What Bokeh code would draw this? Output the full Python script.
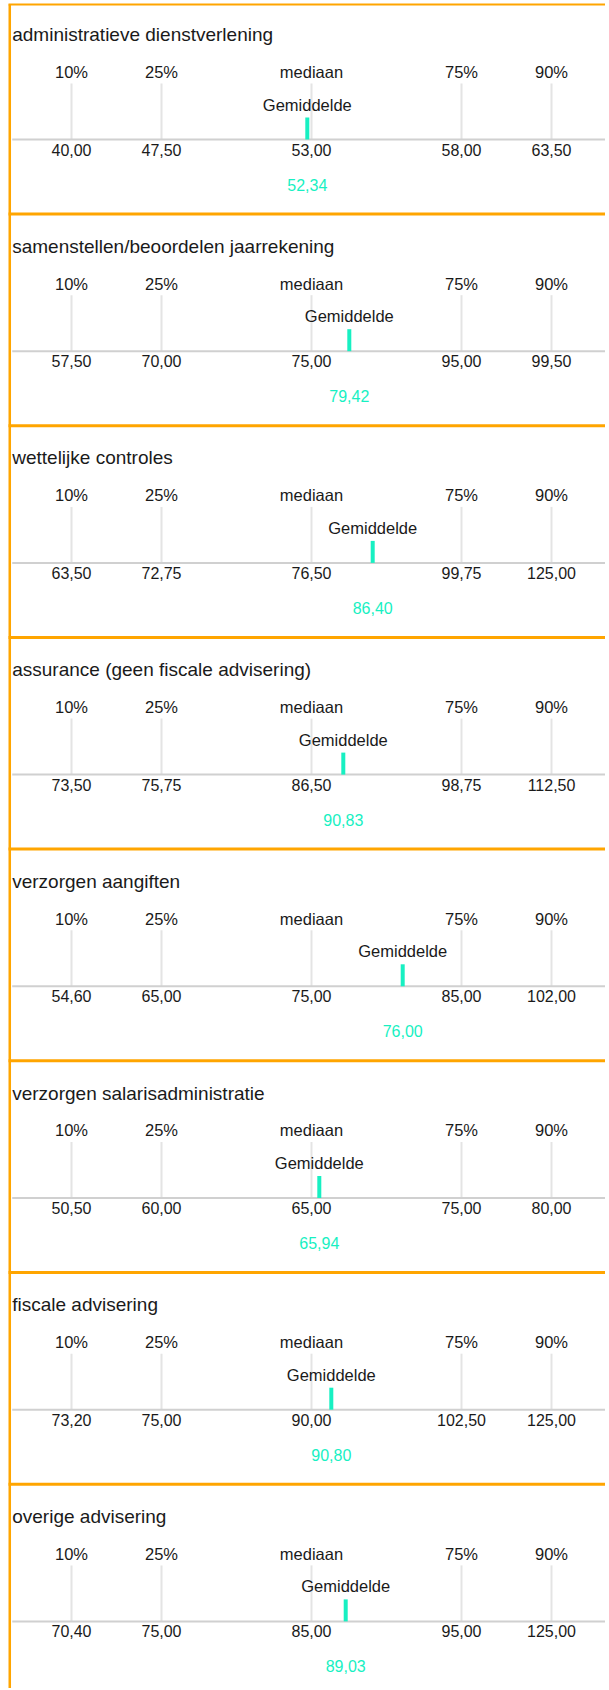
from bokeh.plotting import figure
from bokeh.models import Range1d, ColumnDataSource
from bokeh.core.properties import value
from bokeh.embed import file_html
from bokeh.resources import INLINE

# ---------------- data ----------------
categories = [
    "administratieve dienstverlening",
    "samenstellen/beoordelen jaarrekening",
    "wettelijke controles",
    "assurance (geen fiscale advisering)",
    "verzorgen aangiften",
    "verzorgen salarisadministratie",
    "fiscale advisering",
    "overige advisering",
]
p10 = [40.00, 57.50, 63.50, 73.50, 54.60, 50.50, 73.20, 70.40]
p25 = [47.50, 70.00, 72.75, 75.75, 65.00, 60.00, 75.00, 75.00]
mediaan = [53.00, 75.00, 76.50, 86.50, 75.00, 65.00, 90.00, 85.00]
p75 = [58.00, 95.00, 99.75, 98.75, 85.00, 75.00, 102.50, 95.00]
p90 = [63.50, 99.50, 125.00, 112.50, 102.00, 80.00, 125.00, 125.00]
gemiddelde = [52.34, 79.42, 86.40, 90.83, 76.00, 65.94, 90.80, 89.03]
# position of the mean marker on the percentile strip
gemiddelde_positie = [49.3, 56.3, 60.2, 55.3, 65.2, 51.3, 53.3, 55.7]

quantile_labels = ["10%", "25%", "mediaan", "75%", "90%"]
quantile_pos = [10, 25, 50, 75, 90]
mean_label = "Gemiddelde"

# ---------------- style ----------------
FONT = "Liberation Sans"
TEXT = "#1a1a1a"
ORANGE = "#FFA500"
TEAL = "#17F0C2"
GRID = "#e4e4e4"
AXIS = "#d0d0d0"
PANEL_TOP0 = 4
PANEL_H = 211.7
FIG_W, FIG_H = 605, 1688
X_LEFT = -11 / 6
X_RIGHT = (FIG_W - 11) / 6


def fmt(v):
    return f"{v:.2f}".replace(".", ",")


n = len(categories)
tops = [PANEL_TOP0 + k * PANEL_H for k in range(n)]
quantiles = list(zip(p10, p25, mediaan, p75, p90))

title_src = ColumnDataSource(dict(x=[0.12] * n, y=[t + 30 for t in tops], text=categories))

ql = dict(x=[], y=[], text=[])
gr = dict(x=[], y0=[], y1=[])
vl = dict(x=[], y=[], text=[])
for k in range(n):
    t = tops[k]
    for pos, lab, val in zip(quantile_pos, quantile_labels, quantiles[k]):
        ql["x"].append(pos); ql["y"].append(t + 67.3); ql["text"].append(lab)
        gr["x"].append(pos); gr["y0"].append(t + 79); gr["y1"].append(t + 135)
        vl["x"].append(pos); vl["y"].append(t + 145); vl["text"].append(fmt(val))

axis_src = ColumnDataSource(dict(x0=[0.12] * n, x1=[X_RIGHT] * n, y=[t + 135 for t in tops]))
mark_src = ColumnDataSource(dict(
    x=gemiddelde_positie,
    y0=[t + 113 for t in tops], y1=[t + 135 for t in tops],
    ylab=[t + 100 for t in tops], yval=[t + 180 for t in tops],
    lab=[mean_label] * n, val=[fmt(v) for v in gemiddelde],
))
sep_src = ColumnDataSource(dict(y=[t + 209.5 for t in tops]))

p = figure(width=FIG_W, height=FIG_H, x_range=Range1d(X_LEFT, X_RIGHT),
           y_range=Range1d(FIG_H, 0), output_backend="svg", toolbar_location=None,
           min_border=0, background_fill_color="white", border_fill_color="white")
p.axis.visible = False
p.grid.visible = False
p.outline_line_color = None

# gridlines & axis line
p.segment(x0="x", x1="x", y0="y0", y1="y1", source=ColumnDataSource(gr), line_color=GRID, line_width=2)
p.segment(x0="x0", x1="x1", y0="y", y1="y", source=axis_src, line_color=AXIS, line_width=2)

# texts
p.text(x="x", y="y", text="text", source=title_src, text_font=value(FONT), text_font_size="19px",
       text_color=TEXT, text_align="left", text_baseline="alphabetic")
p.text(x="x", y="y", text="text", source=ColumnDataSource(ql), text_font=value(FONT), text_font_size="16.5px",
       text_color=TEXT, text_align="center", text_baseline="alphabetic")
p.text(x="x", y="y", text="text", source=ColumnDataSource(vl), text_font=value(FONT), text_font_size="16px",
       text_color=TEXT, text_align="center", text_baseline="alphabetic")

# mean marker
p.segment(x0="x", x1="x", y0="y0", y1="y1", source=mark_src, line_color=TEAL, line_width=4)
p.text(x="x", y="ylab", text="lab", source=mark_src, text_font=value(FONT), text_font_size="16.5px",
       text_color=TEXT, text_align="center", text_baseline="alphabetic")
p.text(x="x", y="yval", text="val", source=mark_src, text_font=value(FONT), text_font_size="16px",
       text_color=TEAL, text_align="center", text_baseline="alphabetic")

# orange frame
p.segment(x0=-0.5, x1=X_RIGHT, y0="y", y1="y", source=sep_src, line_color=ORANGE, line_width=3)
p.segment(x0=[-0.5], x1=[X_RIGHT], y0=[PANEL_TOP0], y1=[PANEL_TOP0], line_color=ORANGE, line_width=2)
p.quad(left=[-0.5], right=[-0.08], bottom=[FIG_H], top=[PANEL_TOP0], fill_color=ORANGE, line_color=None)

open("out.html", "w").write(file_html(p, INLINE))
